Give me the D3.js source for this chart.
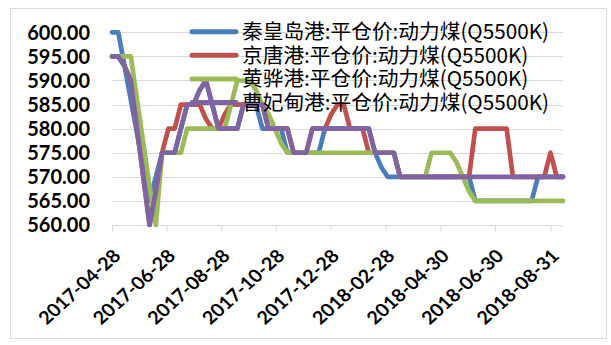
<!DOCTYPE html>
<html>
<head>
<meta charset="utf-8">
<script src="https://cdn.jsdelivr.net/npm/d3@7"></script>
<style>
  body { margin: 0; background: #fff; }
</style>
</head>
<body>
<div id="chart"></div>
<script>
// weekly prices, first point 2017-04-28
var startDate = new Date(2017, 3, 28);
var endDate = new Date(2018, 8, 14);

var seriesNames = [
  "秦皇岛港:平仓价:动力煤(Q5500K)",
  "京唐港:平仓价:动力煤(Q5500K)",
  "黄骅港:平仓价:动力煤(Q5500K)",
  "曹妃甸港:平仓价:动力煤(Q5500K)"
];
var seriesColors = ["#4a7ebb", "#c0504d", "#9bbb59", "#8064a2"];

var qinhuangdao = [600,600,593,586,579,572,565,570,575,575,575,580,585,585,588,590,585,580,580,580,
  580,585,585,585,580,580,580,580,575,575,575,575,575,575,580,580,580,580,580,580,
  580,580,575,572,570,570,570,570,570,570,570,570,570,570,570,570,570,570,565,565,
  565,565,565,565,565,565,565,565,570,570,570,570,570];
var jingtang = [595,595,593,590,580,570,560,567,575,580,580,585,585,585,585,582,580,580,583,585,
  585,585,585,585,585,580,580,580,580,575,575,575,580,580,580,583,585,585,580,580,
  580,575,575,575,575,575,570,570,570,570,570,570,570,570,570,570,570,570,580,580,
  580,580,580,580,570,570,570,570,570,570,575,570,570];
var huanghua = [595,595,595,595,586,577,568,560,575,575,575,575,580,580,580,580,580,580,580,585,
  590,590,590,588,585,583,580,577,575,575,575,575,575,575,575,575,575,575,575,575,
  575,575,575,575,575,575,570,570,570,570,570,575,575,575,575,573,570,567,565,565,
  565,565,565,565,565,565,565,565,565,565,565,565,565];
var caofeidian = [595,595,593,590,580,570,560,567,575,575,575,580,585,585,588,590,585,580,580,580,
  580,585,585,585,585,580,580,580,580,575,575,575,580,580,580,580,580,580,580,580,
  580,580,575,575,575,575,570,570,570,570,570,570,570,570,570,570,570,570,570,570,
  570,570,570,570,570,570,570,570,570,570,570,570,570];

var yTicks = [560, 565, 570, 575, 580, 585, 590, 595, 600];
var xTickLabels = ["2017-04-28", "2017-06-28", "2017-08-28", "2017-10-28", "2017-12-28",
  "2018-02-28", "2018-04-30", "2018-06-30", "2018-08-31"];

var dates = d3.timeDay.range(startDate, d3.timeDay.offset(endDate, 1), 7);
var allSeries = [qinhuangdao, jingtang, huanghua, caofeidian];

var width = 611, height = 345;
var plot = {left: 112, right: 563, top: 32.3, bottom: 225};

var svg = d3.select("#chart")
  .append("svg")
    .attr("width", width)
    .attr("height", height);

// outer frame
svg.append("rect")
  .attr("x", 10.5).attr("y", 8.5)
  .attr("width", 596).attr("height", 330)
  .attr("fill", "#fff")
  .attr("stroke", "#d9d9d9")
  .attr("stroke-width", 1);

var parse = d3.timeParse("%Y-%m-%d");

var x = d3.scaleTime()
  .domain([startDate, endDate])
  .range([plot.left, plot.right]);

var y = d3.scaleLinear()
  .domain([560, 600])
  .range([plot.bottom, plot.top]);

// gridlines
svg.append("g")
  .selectAll("line")
  .data(yTicks.slice(1))
  .enter()
  .append("line")
    .attr("x1", plot.left).attr("x2", plot.right)
    .attr("y1", function(d) { return Math.round(y(d)) + 0.5; })
    .attr("y2", function(d) { return Math.round(y(d)) + 0.5; })
    .attr("stroke", "#d9d9d9")
    .attr("stroke-width", 1);

// X axis
var xAxis = svg.append("g")
  .attr("transform", "translate(0," + (Math.round(y(560)) + 0.5) + ")")
  .call(d3.axisBottom(x)
    .tickValues(xTickLabels.map(parse))
    .tickSize(6)
    .tickFormat(""));
xAxis.select(".domain").attr("stroke", "#d9d9d9").attr("d", "M" + plot.left + ",0H" + plot.right);
xAxis.selectAll(".tick line").attr("stroke", "#d9d9d9");

// rotated date labels, slightly widened like the original
svg.append("g")
  .selectAll("text")
  .data(xTickLabels)
  .enter()
  .append("text")
    .attr("transform", function(d) {
      return "translate(" + (x(parse(d)) + 10) + ",257) scale(1.1,1) rotate(-45)";
    })
    .attr("text-anchor", "end")
    .style("font-family", "Lato, 'Open Sans', sans-serif")
    .style("font-weight", "bold")
    .style("font-size", "18px")
    .text(function(d) { return d; });

// Y axis labels
svg.append("g")
  .selectAll("text")
  .data(yTicks)
  .enter()
  .append("text")
    .attr("x", 90)
    .attr("y", function(d) { return y(d); })
    .attr("dy", "0.36em")
    .attr("text-anchor", "end")
    .style("font-family", "Lato, 'Open Sans', sans-serif")
    .style("font-weight", "bold")
    .style("font-size", "20px")
    .text(function(d) { return d.toFixed(2); });

// lines
var line = d3.line()
  .x(function(d, i) { return x(dates[i]); })
  .y(function(d) { return y(d); });

svg.append("g")
  .selectAll("path")
  .data(allSeries)
  .enter()
  .append("path")
    .attr("d", line)
    .attr("fill", "none")
    .attr("stroke", function(d, i) { return seriesColors[i]; })
    .attr("stroke-width", 4.7)
    .attr("stroke-linejoin", "round")
    .attr("stroke-linecap", "round");

// legend (no background, sits over the plot)
var legend = svg.append("g")
  .selectAll("g")
  .data(seriesNames)
  .enter()
  .append("g")
    .attr("transform", function(d, i) { return "translate(0," + (31.7 + i * 23.6) + ")"; });

legend.append("line")
  .attr("x1", 192).attr("x2", 236)
  .attr("stroke", function(d, i) { return seriesColors[i]; })
  .attr("stroke-width", 5)
  .attr("stroke-linecap", "round");

legend.append("text")
  .attr("x", 242)
  .attr("dy", "0.36em")
  .style("font-family", "'Noto Sans CJK SC', sans-serif")
  .style("font-size", "20.7px")
  .text(function(d) { return d; });
</script>
</body>
</html>
